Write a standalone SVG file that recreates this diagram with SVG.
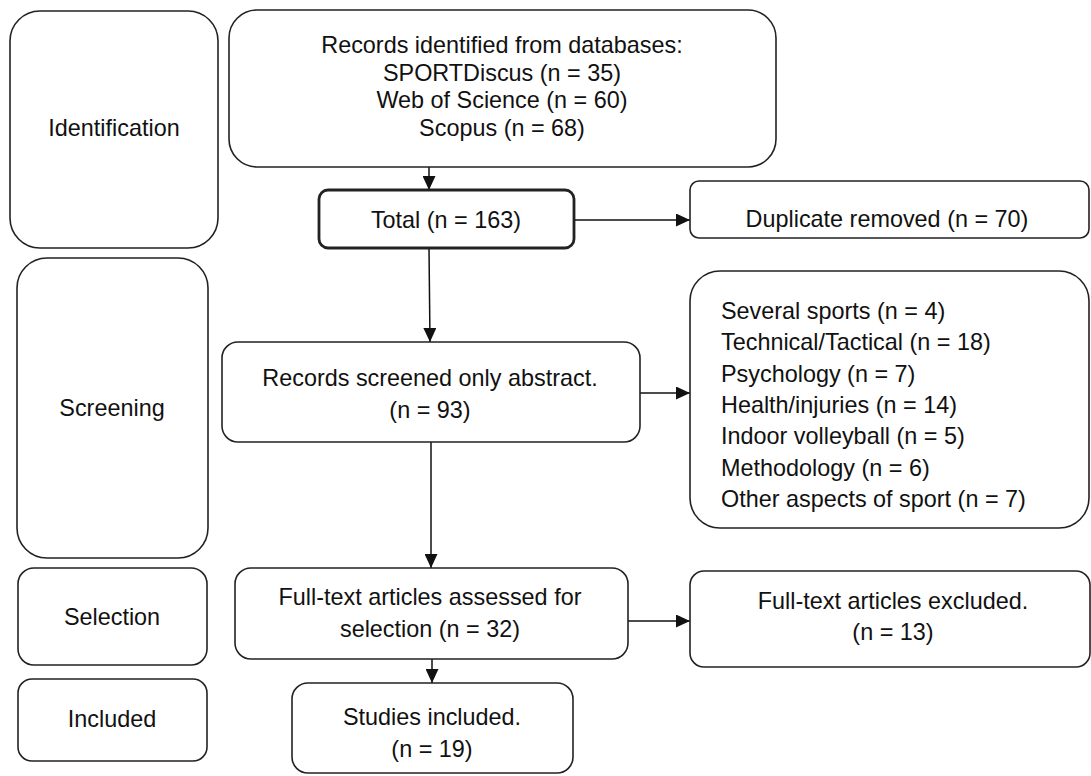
<svg xmlns="http://www.w3.org/2000/svg" width="1091" height="776" viewBox="0 0 1091 776">
<style>
.box{fill:#fff;stroke:#222;stroke-width:1.6}
.bold{stroke-width:2.8}
.t{font-family:"Liberation Sans",Arial,sans-serif;font-size:23.4px;fill:#111}
.c{text-anchor:middle}
.conn{stroke:#111;stroke-width:1.5;fill:none;marker-end:url(#ah)}
</style>
<defs>
<marker id="ah" markerUnits="userSpaceOnUse" markerWidth="14" markerHeight="13" refX="14" refY="6.5" orient="auto">
<path d="M0,0 L14,6.5 L0,13 z" fill="#111"/>
</marker>
</defs>
<rect width="1091" height="776" fill="#fff"/>
<g id="connectors">
<line class="conn" x1="429" y1="167" x2="429" y2="190"/>
<line class="conn" x1="574" y1="220" x2="690" y2="220"/>
<line class="conn" x1="429" y1="248" x2="430" y2="342"/>
<line class="conn" x1="640" y1="393" x2="690" y2="393"/>
<line class="conn" x1="431" y1="442" x2="431" y2="568"/>
<line class="conn" x1="628" y1="621" x2="690" y2="621"/>
<line class="conn" x1="432" y1="659" x2="432" y2="683"/>
</g>
<g id="stage-identification">
<rect class="box" x="10" y="11" width="208" height="237" rx="30"/>
<text class="t c" x="114" y="136">Identification</text>
</g>
<g id="records-identified">
<rect class="box" x="229" y="10" width="547" height="157" rx="28"/>
<text class="t c" x="502" y="53">Records identified from databases:</text>
<text class="t c" x="502" y="81">SPORTDiscus (n = 35)</text>
<text class="t c" x="502" y="108">Web of Science (n = 60)</text>
<text class="t c" x="502" y="136">Scopus (n = 68)</text>
</g>
<g id="total">
<rect class="box bold" x="319" y="190" width="255" height="58" rx="9"/>
<text class="t c" x="446" y="228">Total (n = 163)</text>
</g>
<g id="duplicate">
<rect class="box" x="690" y="181" width="399" height="57" rx="9"/>
<text class="t c" x="887" y="227">Duplicate removed (n = 70)</text>
</g>
<g id="stage-screening">
<rect class="box" x="17" y="258" width="191" height="300" rx="30"/>
<text class="t c" x="112" y="416">Screening</text>
</g>
<g id="records-screened">
<rect class="box" x="222" y="342" width="418" height="100" rx="16"/>
<text class="t c" x="430" y="386">Records screened only abstract.</text>
<text class="t c" x="430" y="418">(n = 93)</text>
</g>
<g id="excluded-abstract">
<rect class="box" x="690" y="271" width="399" height="257" rx="30"/>
<text class="t" x="721" y="319">Several sports (n = 4)</text>
<text class="t" x="721" y="350">Technical/Tactical (n = 18)</text>
<text class="t" x="721" y="382">Psychology (n = 7)</text>
<text class="t" x="721" y="413">Health/injuries (n = 14)</text>
<text class="t" x="721" y="444">Indoor volleyball (n = 5)</text>
<text class="t" x="721" y="476">Methodology (n = 6)</text>
<text class="t" x="721" y="507">Other aspects of sport (n = 7)</text>
</g>
<g id="stage-selection">
<rect class="box" x="18" y="568" width="189" height="97" rx="16"/>
<text class="t c" x="112" y="625">Selection</text>
</g>
<g id="fulltext-assessed">
<rect class="box" x="235" y="568" width="393" height="91" rx="16"/>
<text class="t c" x="430" y="605">Full-text articles assessed for</text>
<text class="t c" x="430" y="637">selection (n = 32)</text>
</g>
<g id="fulltext-excluded">
<rect class="box" x="690" y="571" width="400" height="96" rx="14"/>
<text class="t c" x="893" y="609">Full-text articles excluded.</text>
<text class="t c" x="893" y="640">(n = 13)</text>
</g>
<g id="stage-included">
<rect class="box" x="18" y="679" width="189" height="82" rx="14"/>
<text class="t c" x="112" y="727">Included</text>
</g>
<g id="studies-included">
<rect class="box" x="292" y="683" width="281" height="90" rx="16"/>
<text class="t c" x="432" y="725">Studies included.</text>
<text class="t c" x="432" y="757">(n = 19)</text>
</g>
</svg>
